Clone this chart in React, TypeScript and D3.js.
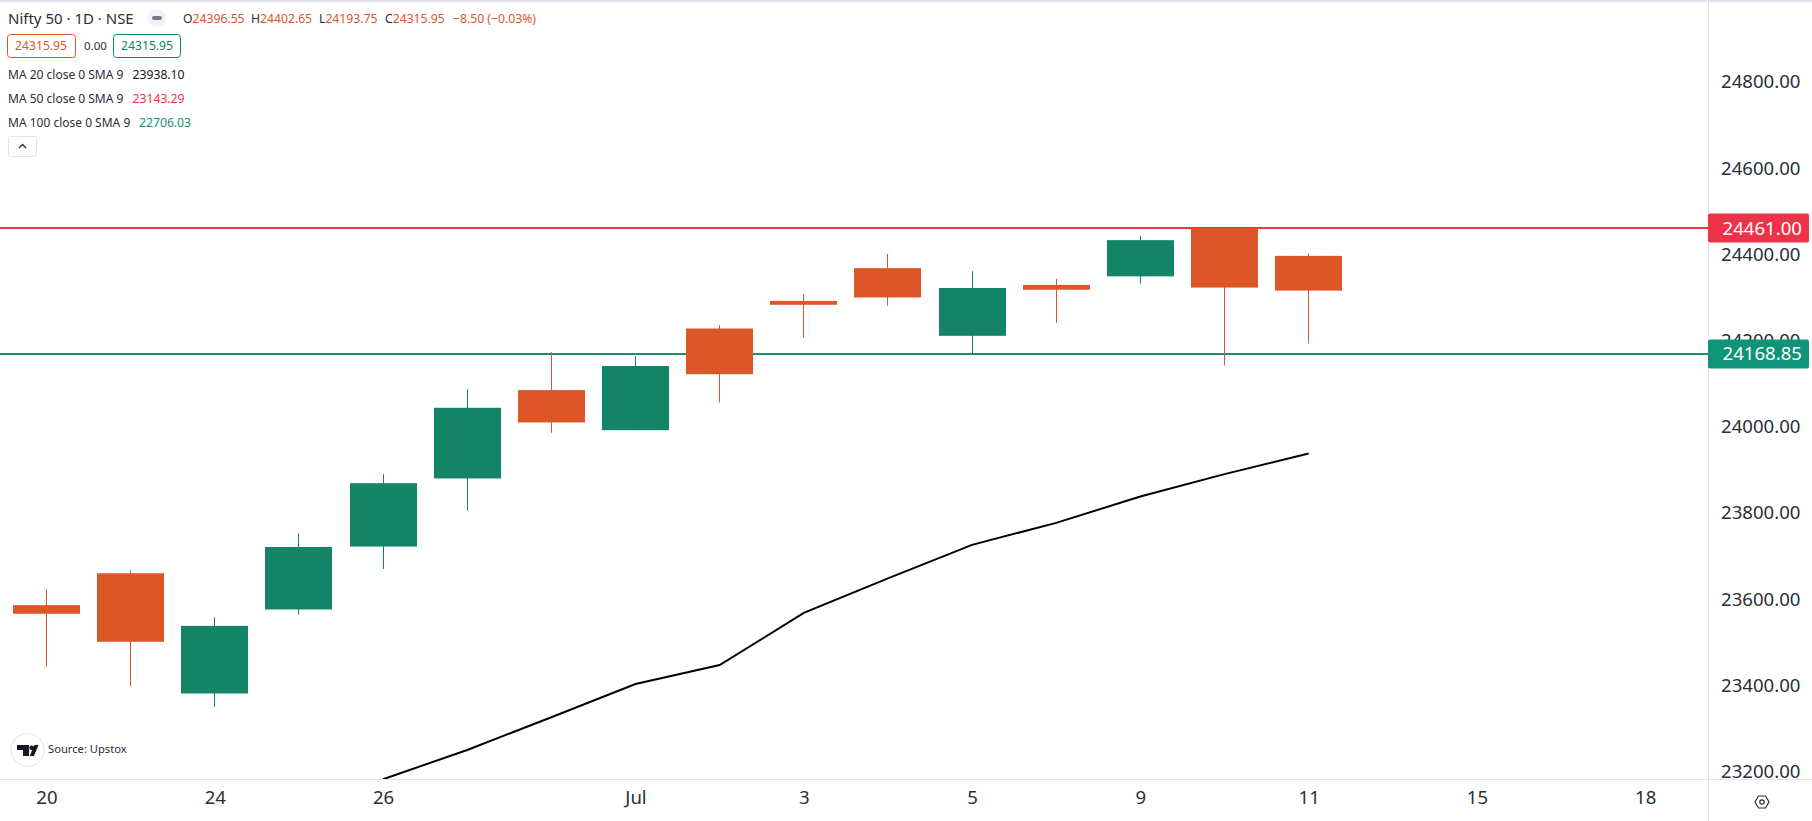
import { axisBottom, axisRight, line, scaleLinear, scalePoint, select, format } from 'd3';
import { useEffect, useRef } from 'react';

const sessions = ['Jun20', 'Jun21', 'Jun24', 'Jun25', 'Jun26', 'Jun27', 'Jun28', 'Jul1', 'Jul2', 'Jul3', 'Jul4', 'Jul5', 'Jul8', 'Jul9', 'Jul10', 'Jul11', 'Jul12', 'Jul15', 'Jul16', 'Jul18'];
const opens = [23586, 23660, 23381, 23576, 23722, 23880, 24085, 23992, 24228, 24292, 24368, 24211, 24329, 24349, 24461, 24396.55];
const highs = [23623, 23667, 23558, 23753, 23890, 24087, 24173, 24164, 24236, 24308, 24401, 24361, 24343, 24443, 24461, 24402.65];
const lows = [23443, 23398, 23350, 23564, 23670, 23805, 23986, 23992, 24056, 24207, 24281, 24169, 24241, 24332, 24142, 24193.75];
const closes = [23566, 23501, 23538, 23721, 23869, 24044, 24010, 24141, 24122, 24283, 24300, 24322, 24318, 24433, 24323, 24315.95];
const ma20Sessions = sessions.slice(4, 16);
const ma20 = [23182, 23250, 23326, 23403, 23447, 23568, 23648, 23726, 23777, 23838, 23890, 23938.1];

const priceTicks = [23200, 23400, 23600, 23800, 24000, 24200, 24400, 24600, 24800];
const timeTicks = ['Jun20', 'Jun24', 'Jun26', 'Jul1', 'Jul3', 'Jul5', 'Jul9', 'Jul11', 'Jul15', 'Jul18'];
const timeLabels = ['20', '24', '26', 'Jul', '3', '5', '9', '11', '15', '18'];
const resistance = 24461;
const support = 24168.85;

const UP = '#138566';
const DOWN = '#dc5628';
const RED = '#ee3349';
const TEAL = '#109479';
const BORDER = '#e0e3eb';
const INK = '#2a2e39';
const FONT = '"Noto Sans", sans-serif';

const width = 1812;
const height = 821;
const plotRight = 1708;
const plotBottom = 779;

const x = scalePoint().domain(sessions).range([46.5, 1645.2]);
const y = scaleLinear().domain([23200, 24800]).range([771.5, 82]);
const wickX = (s: string) => Math.floor(x(s)) + 0.5;

function App() {
  const svgRef = useRef(null);

  useEffect(() => {
    const svg = select(svgRef.current);
    const candles = opens.map((o, i) => ({ s: sessions[i], o, h: highs[i], l: lows[i], c: closes[i] }));
    const colour = d => (d.c >= d.o ? UP : DOWN);

    svg.select('.levels')
      .selectAll('line')
      .data([[resistance, RED], [support, TEAL]])
      .join('line')
      .attr('x1', 0)
      .attr('x2', plotRight)
      .attr('y1', d => Math.round(y(d[0])))
      .attr('y2', d => Math.round(y(d[0])))
      .attr('stroke', d => d[1])
      .attr('stroke-width', 2);

    svg.select('.wicks')
      .selectAll('line')
      .data(candles)
      .join('line')
      .attr('x1', d => wickX(d.s))
      .attr('x2', d => wickX(d.s))
      .attr('y1', d => y(d.h))
      .attr('y2', d => y(d.l))
      .attr('stroke', colour)
      .attr('stroke-width', 1);

    svg.select('.bodies')
      .selectAll('rect')
      .data(candles)
      .join('rect')
      .attr('x', d => wickX(d.s) - 33.5)
      .attr('width', 67)
      .attr('y', d => y(Math.max(d.o, d.c)))
      .attr('height', d => Math.abs(y(d.o) - y(d.c)))
      .attr('fill', colour);

    const maLine = line()
      .x((d, i) => x(ma20Sessions[i]))
      .y(d => y(d));
    svg.select('.ma')
      .attr('d', maLine(ma20))
      .attr('fill', 'none')
      .attr('stroke', '#000')
      .attr('stroke-width', 2);

    const yAxis = axisRight(y)
      .tickValues(priceTicks)
      .tickFormat(format('.2f'))
      .tickSize(0)
      .tickPadding(13);
    svg.select('.yAxis').attr('transform', `translate(${plotRight},0)`).call(yAxis);

    const xAxis = axisBottom(x)
      .tickValues(timeTicks)
      .tickFormat((d, i) => timeLabels[i])
      .tickSize(0)
      .tickPadding(12);
    svg.select('.xAxis').attr('transform', `translate(0,${plotBottom})`).call(xAxis);

    svg.selectAll('.yAxis .domain, .xAxis .domain').remove();
    svg.selectAll('.yAxis text, .xAxis text')
      .attr('font-family', FONT)
      .attr('font-size', 18.6)
      .attr('fill', INK);

    svg.select('.priceTags')
      .selectAll('g')
      .data([[resistance, RED], [support, TEAL]])
      .join('g')
      .attr('transform', d => `translate(${plotRight},${y(d[0])})`)
      .each(function (d) {
        const g = select(this);
        g.selectAll('*').remove();
        g.append('rect')
          .attr('y', -14.5)
          .attr('width', 101)
          .attr('height', 29)
          .attr('rx', 2)
          .attr('fill', d[1]);
        g.append('text')
          .attr('x', 94)
          .attr('y', 6.5)
          .attr('text-anchor', 'end')
          .attr('font-family', FONT)
          .attr('font-size', 18.6)
          .attr('fill', '#fff')
          .text(format('.2f')(d[0]));
      });
  }, []);

  const small = { fontFamily: FONT, fontSize: 12.2 };

  return (
    <svg
      ref={svgRef}
      width={width}
      height={height}
      style={{ position: 'absolute', left: 0, top: 0, display: 'block', background: '#fff' }}
    >
      <defs>
        <clipPath id="plot">
          <rect x={0} y={0} width={plotRight} height={plotBottom} />
        </clipPath>
      </defs>
      <rect x={0} y={0} width={width} height={2} fill={BORDER} />

      <g clipPath="url(#plot)">
        <g className="levels" />
        <g className="wicks" />
        <g className="bodies" />
        <path className="ma" />
      </g>

      <line x1={plotRight + 0.5} x2={plotRight + 0.5} y1={2} y2={height} stroke={BORDER} />
      <line x1={0} x2={width} y1={plotBottom + 0.5} y2={plotBottom + 0.5} stroke={BORDER} />
      <g className="yAxis" />
      <g className="xAxis" />
      <g className="priceTags" />

      {/* legend */}
      <text x={8} y={24} fontFamily={FONT} fontSize={15} fill={INK}>Nifty 50 · 1D · NSE</text>
      <circle cx={157} cy={18} r={9} fill="#f0f3fa" />
      <rect x={152} y={16} width={10} height={4} rx={2} fill="#787b86" />
      <g {...small} fill={DOWN}>
        <text x={183} y={23}><tspan fill={INK}>O</tspan>24396.55</text>
        <text x={251} y={23}><tspan fill={INK}>H</tspan>24402.65</text>
        <text x={319} y={23}><tspan fill={INK}>L</tspan>24193.75</text>
        <text x={385} y={23}><tspan fill={INK}>C</tspan>24315.95</text>
        <text x={453} y={23}>−8.50 (−0.03%)</text>
      </g>

      <rect x={7.5} y={34.5} width={68} height={23} rx={3} fill="none" stroke={DOWN} />
      <text x={15} y={50} {...small} fill={DOWN}>24315.95</text>
      <text x={84} y={50} {...small} fontSize={11.5} fill={INK}>0.00</text>
      <rect x={113.5} y={34.5} width={67} height={23} rx={3} fill="none" stroke={UP} />
      <text x={121} y={50} {...small} fill={UP}>24315.95</text>

      <g {...small} fontSize={12} fill={INK}>
        <text x={8} y={79}>MA 20 close 0 SMA 9</text>
        <text x={8} y={103}>MA 50 close 0 SMA 9</text>
        <text x={8} y={127}>MA 100 close 0 SMA 9</text>
      </g>
      <text x={132.5} y={79} {...small} fill="#131722">23938.10</text>
      <text x={132.5} y={103} {...small} fill={RED}>23143.29</text>
      <text x={139} y={127} {...small} fill={TEAL}>22706.03</text>
      <rect x={8.5} y={136.5} width={28} height={20} rx={2} fill="#fff" stroke={BORDER} />
      <path d="M19 148l3.5-3.5 3.5 3.5" fill="none" stroke={INK} strokeWidth={1.3} />

      {/* attribution */}
      <circle cx={27.5} cy={750} r={16.5} fill="#fff" stroke={BORDER} />
      <path d="M17 745h12v11h-6v-6h-6z" fill="#131722" />
      <circle cx={31.7} cy={747.8} r={2.4} fill="#131722" />
      <path d="M34.5 745h4l-4.6 11h-4.2z" fill="#131722" />
      <text x={48} y={753} {...small} fontSize={11.2} fill={INK}>Source: Upstox</text>

      {/* settings */}
      <path d="M1755 802l3.5-6h7l3.5 6-3.5 6h-7z" fill="none" stroke={INK} strokeWidth={1.2} />
      <circle cx={1762} cy={802} r={2.2} fill="none" stroke={INK} strokeWidth={1.2} />
    </svg>
  );
}

export default App;
